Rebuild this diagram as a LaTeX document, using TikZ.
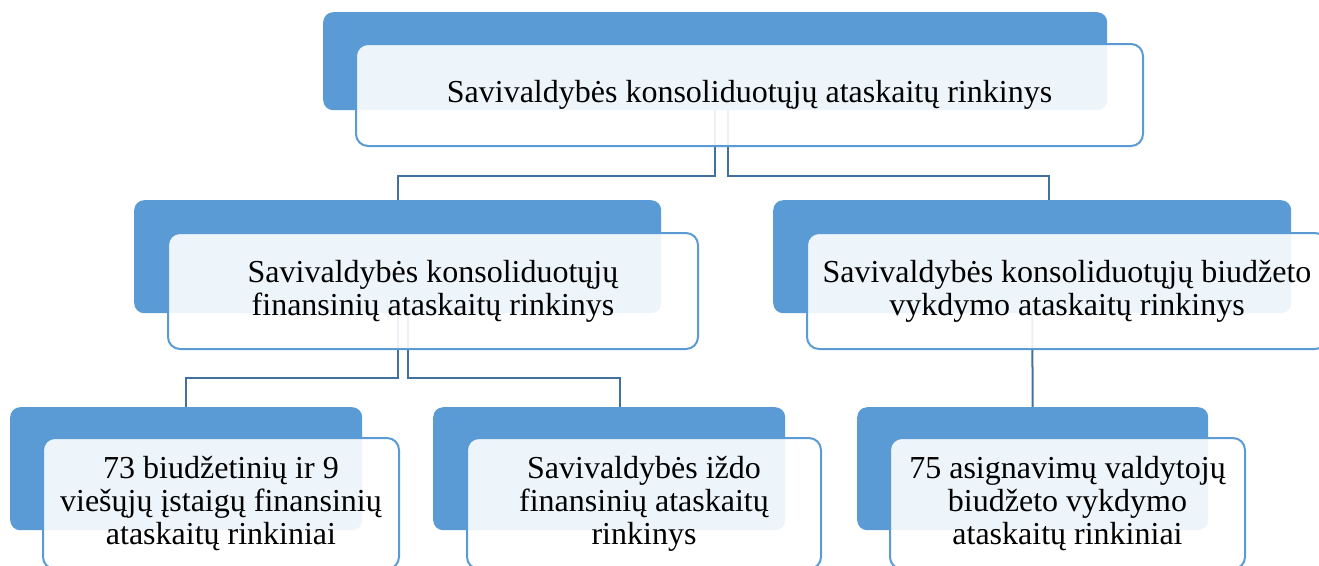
\documentclass[tikz,border=0pt]{standalone}
\usepackage{fontspec}
\setmainfont{Liberation Serif}
\usetikzlibrary{positioning}
\definecolor{accentblue}{RGB}{91,155,213}
\definecolor{lineblue}{RGB}{65,113,156}

\begin{document}
\begin{tikzpicture}
              [x=1pt,y=-1pt,
                every node/.style={rectangle,inner sep=0pt,font=\fontsize{32}{33}\selectfont},
                back/.style={rounded corners=10pt,fill=accentblue,draw=none,anchor=north west},
                front/.style={rounded corners=12pt,draw=accentblue,line width=2pt,fill=white,fill opacity=0.9,text opacity=1,align=center,anchor=north west},
                conn/.style={draw=lineblue,line width=2pt}]
              \useasboundingbox (0,0) rectangle (1319,565);
              % back boxes
              \node[back,minimum width=784pt,minimum height=98pt] (b0) at (323,12) {};
              \node[back,minimum width=527pt,minimum height=113pt] (b1) at (134,200) {};
              \node[back,minimum width=518pt,minimum height=113pt] (b2) at (773,200) {};
              \node[back,minimum width=352pt,minimum height=123pt] (b3) at (10,407) {};
              \node[back,minimum width=352pt,minimum height=123pt] (b4) at (433,407) {};
              \node[back,minimum width=351pt,minimum height=123pt] (b5) at (857,407) {};
              % connectors
              \draw[conn] (b0.south) -- ++(0,66) -| (b1.north);
              \draw[conn] ([xshift=13pt]b0.south) -- ++(0,66) -| ([xshift=17pt]b2.north);
              \draw[conn] (b1.south) -- ++(0,65) -| (b3.north);
              \draw[conn] ([xshift=10pt]b1.south) -- ++(0,65) -| ([xshift=11pt]b4.north);
              \draw[conn] (b2.south) -- (b5.north);
              % front boxes
              \node[front,minimum width=787pt,minimum height=102pt] (n0) at ([shift={(32,31)}]b0.north west) {Savivaldybės konsoliduotųjų ataskaitų rinkinys};
              \node[front,minimum width=530pt,minimum height=116pt] (n1) at ([shift={(33,32)}]b1.north west) {Savivaldybės konsoliduotųjų\\finansinių ataskaitų rinkinys};
              \node[front,minimum width=520pt,minimum height=116pt] (n2) at ([shift={(33,32)}]b2.north west) {Savivaldybės konsoliduotųjų biudžeto\\vykdymo ataskaitų rinkinys};
              \node[front,minimum width=356pt,minimum height=131pt] (n3) at ([shift={(32,30)}]b3.north west) {73 biudžetinių ir 9\\viešųjų įstaigų finansinių\\ataskaitų rinkiniai};
              \node[front,minimum width=354pt,minimum height=131pt] (n4) at ([shift={(33,30)}]b4.north west) {Savivaldybės iždo\\finansinių ataskaitų\\rinkinys};
              \node[front,minimum width=355pt,minimum height=131pt] (n5) at ([shift={(32,30)}]b5.north west) {75 asignavimų valdytojų\\biudžeto vykdymo\\ataskaitų rinkiniai};
            \end{tikzpicture}
\end{document}
